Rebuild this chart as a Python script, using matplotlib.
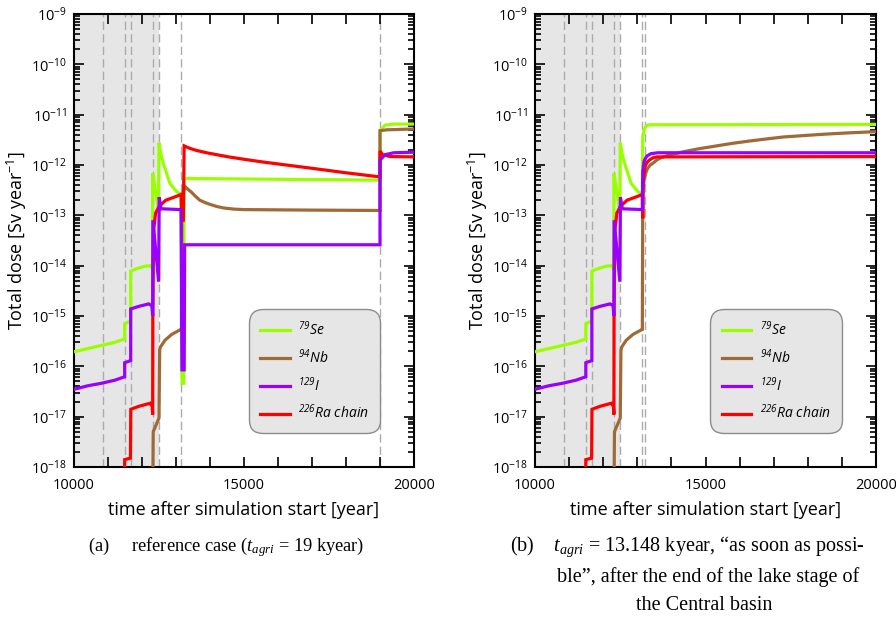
import numpy as np
import matplotlib
matplotlib.use("Agg")
import matplotlib.pyplot as plt
from matplotlib.ticker import LogLocator, MultipleLocator, FuncFormatter, NullFormatter

plt.rcParams['font.family'] = ['Open Sans', 'DejaVu Sans']
plt.rcParams['mathtext.fontset'] = 'custom'
plt.rcParams['mathtext.rm'] = 'Liberation Serif'
plt.rcParams['mathtext.it'] = 'Liberation Serif:italic'

# ---- dose curves, common part up to the end of the lake stage (13148 y)
se_t_early = [10000, 10400, 10800, 11200, 11490, 11490, 11667, 11667, 11900, 12100, 12250,
              12300, 12314, 12314, 12400, 12490, 12500, 12560, 12630, 12820, 13020, 13148]
se_v_early = [1.95e-16, 2.25e-16, 2.6e-16, 3.0e-16, 3.5e-16, 7.0e-16, 8.0e-16, 7.8e-15, 9.0e-15,
              9.8e-15, 1.0e-14, 9.0e-15, 8.0e-15, 6.8e-13, 3.0e-13, 1.2e-13, 2.77e-12, 1.6e-12,
              1.07e-12, 4.3e-13, 2.95e-13, 2.6e-13]

nb_t_early = [12312, 12330, 12500, 12520, 12540, 12676, 12872, 13118, 13148]
nb_v_early = [1e-19, 5e-18, 9.4e-18, 2.1e-16, 2.4e-16, 3.3e-16, 4.3e-16, 5.3e-16, 5.4e-16]

i_t_early = [10000, 10400, 10800, 11200, 11490, 11490, 11667, 11667, 11900, 12200, 12290,
             12314, 12320, 12490, 12505, 12560, 13148]
i_v_early = [3.5e-17, 4.1e-17, 4.6e-17, 5.3e-17, 6.2e-17, 1.18e-16, 1.3e-16, 1.38e-15, 1.55e-15,
             1.74e-15, 1.6e-15, 1.0e-15, 8e-14, 4.8e-15, 2.3e-13, 1.35e-13, 1.3e-13]

ra_t_early = [11475, 11490, 11660, 11670, 11900, 12240, 12300, 12314, 12318, 12340, 12400,
              12500, 12700, 12950, 13148]
ra_v_early = [1e-19, 1.4e-18, 1.5e-18, 1.4e-17, 1.6e-17, 1.85e-17, 1.6e-17, 1.1e-17, 1e-15,
              5e-14, 1.1e-13, 1.5e-13, 2.0e-13, 2.3e-13, 2.6e-13]

# ---- (a) reference case, t_agri = 19 kyear
se_t_a = [13180, 13225, 13240, 16000, 19000, 19000, 19150, 19400, 20000]
se_v_a = [4.6e-17, 4.6e-17, 5.4e-13, 5.2e-13, 5.0e-13, 4.8e-12, 6.2e-12, 6.5e-12, 6.5e-12]

nb_t_a = [13160, 13175, 13270, 13350, 13450, 13570, 13700, 13850, 14000, 14200, 14400, 14700,
          15000, 17000, 19000, 19000, 19200, 20000]
nb_v_a = [5.4e-16, 2.5e-13, 3.7e-13, 3.3e-13, 2.9e-13, 2.4e-13, 2.0e-13, 1.8e-13, 1.65e-13,
          1.5e-13, 1.4e-13, 1.33e-13, 1.3e-13, 1.27e-13, 1.25e-13, 4.8e-12, 5.0e-12, 5.2e-12]

i_t_a = [13175, 13240, 13255, 19000, 19000, 19150, 19400, 20000]
i_v_a = [8.5e-17, 8.5e-17, 2.6e-14, 2.6e-14, 1.26e-12, 1.6e-12, 1.75e-12, 1.8e-12]

ra_t_a = [13170, 13215, 13240, 13400, 13600, 13900, 14200, 14600, 15000, 15500, 16000, 17000,
          18000, 19000, 19000, 19080, 19300, 20000]
ra_v_a = [8e-14, 8e-14, 2.4e-12, 2.15e-12, 1.95e-12, 1.75e-12, 1.6e-12, 1.43e-12, 1.3e-12,
          1.16e-12, 1.05e-12, 8.6e-13, 7e-13, 5.8e-13, 1.9e-12, 1.6e-12, 1.47e-12, 1.45e-12]

# ---- (b) t_agri = 13.148 kyear
se_t_b = [13160, 13200, 13230, 13280, 13350, 20000]
se_v_b = [3.6e-12, 5.0e-12, 5.6e-12, 6.1e-12, 6.3e-12, 6.4e-12]

nb_t_b = [13160, 13200, 13250, 13300, 13380, 13470, 13580, 13700, 14000, 14350, 14800, 15330,
          15800, 16300, 16800, 17280, 17900, 18500, 19200, 20000]
nb_v_b = [3e-13, 5e-13, 7e-13, 8.5e-13, 1.0e-12, 1.1e-12, 1.27e-12, 1.4e-12, 1.62e-12, 1.83e-12,
          2.1e-12, 2.4e-12, 2.7e-12, 3.0e-12, 3.3e-12, 3.6e-12, 3.85e-12, 4.1e-12, 4.35e-12, 4.6e-12]

i_t_b = [13160, 13200, 13276, 13400, 13600, 20000]
i_v_b = [7.5e-13, 1.2e-12, 1.5e-12, 1.68e-12, 1.75e-12, 1.75e-12]

ra_t_b = [13160, 13175, 13226, 13280, 13350, 13450, 13570, 20000]
ra_v_b = [8.7e-14, 5e-13, 9.3e-13, 1.12e-12, 1.25e-12, 1.38e-12, 1.45e-12, 1.47e-12]

# stage boundaries (dashed) and the shaded early period
events_a = [10850, 11490, 11667, 12314, 12500, 13148, 19000]
events_b = [10850, 11490, 11667, 12314, 12500, 13148, 13240]
shade_span = (10000, 12500)

labels = [r'$\mathdefault{^{79}}$Se', r'$\mathdefault{^{94}}$Nb',
          r'$\mathdefault{^{129}}$I', r'$\mathdefault{^{226}}$Ra chain']
colors = ['#99ff00', '#a06a38', '#9900ff', '#ff0000']
zorders = [3, 4, 6, 5]

early = [(se_t_early, se_v_early), (nb_t_early, nb_v_early),
         (i_t_early, i_v_early), (ra_t_early, ra_v_early)]
late_a = [(se_t_a, se_v_a), (nb_t_a, nb_v_a), (i_t_a, i_v_a), (ra_t_a, ra_v_a)]
late_b = [(se_t_b, se_v_b), (nb_t_b, nb_v_b), (i_t_b, i_v_b), (ra_t_b, ra_v_b)]

fig = plt.figure(figsize=(8.96, 6.21), dpi=100)
ax_a = fig.add_axes([74/896, 1-467/621, 340/896, 453/621])
ax_b = fig.add_axes([535/896, 1-467/621, 341/896, 453/621])


def draw_panel(ax, late, events):
    ax.axvspan(*shade_span, color='#e6e6e6', lw=0, zorder=0)
    for x in events:
        ax.axvline(x, color='#ababab', lw=1.0, ls=(0, (6, 3)), zorder=1)
    for (te, ve), (tl, vl), lab, c, z in zip(early, late, labels, colors, zorders):
        ax.plot(te + tl, ve + vl, color=c, lw=2.3, label=lab, zorder=z,
                solid_joinstyle='miter')
    ax.set_yscale('log')
    ax.set_xlim(10000, 20000)
    ax.set_ylim(1e-18, 1e-9)
    ax.xaxis.set_major_locator(MultipleLocator(1000))
    ax.xaxis.set_major_formatter(FuncFormatter(
        lambda v, p: '%d' % v if int(round(v)) % 5000 == 0 else ''))
    ax.yaxis.set_major_locator(LogLocator(base=10, numticks=20))
    ax.yaxis.set_minor_locator(LogLocator(base=10, subs=np.arange(2, 10), numticks=100))
    ax.yaxis.set_minor_formatter(NullFormatter())
    ax.tick_params(which='both', direction='in', top=True, right=True, labelsize=10.5,
                   width=1.2)
    ax.tick_params(axis='x', pad=8)
    ax.tick_params(axis='y', pad=5)
    ax.tick_params(which='major', length=7)
    ax.tick_params(which='minor', length=4)
    for s in ax.spines.values():
        s.set_linewidth(1.5)
    ax.set_xlabel('time after simulation start [year]', fontsize=13, labelpad=6)
    ax.set_ylabel(r'Total dose [Sv year$\mathdefault{^{-1}}$]', fontsize=13, labelpad=1)
    leg = ax.legend(loc='center', bbox_to_anchor=(0.707, 0.211),
                    prop={'style': 'italic', 'size': 10}, fancybox=True, framealpha=1,
                    facecolor='#e6e6e6', edgecolor='#8c8c8c', handlelength=2.15,
                    labelspacing=0.66, borderpad=0.5, handletextpad=0.6)
    leg.get_frame().set_boxstyle('round', pad=0.3, rounding_size=1.0)
    leg.set_zorder(10)


draw_panel(ax_a, late_a, events_a)
draw_panel(ax_b, late_b, events_b)

fig.text(88/896, 1-547/621, r'(a)     reference case ($t_{agri}$ = 19 kyear)', va='center',
         fontsize=13.2, family='Liberation Serif')
cap = dict(fontsize=14.5, family='Liberation Serif', va='center')
fig.text(510/896, 1-547/621, r'(b)    $t_{agri}$ = 13.148 kyear, “as soon as possi-', **cap)
fig.text(708/896, 1-577/621, r'ble”, after the end of the lake stage of', ha='center', **cap)
fig.text(704/896, 1-605/621, 'the Central basin', ha='center', **cap)

fig.savefig('out.png', dpi=100)
